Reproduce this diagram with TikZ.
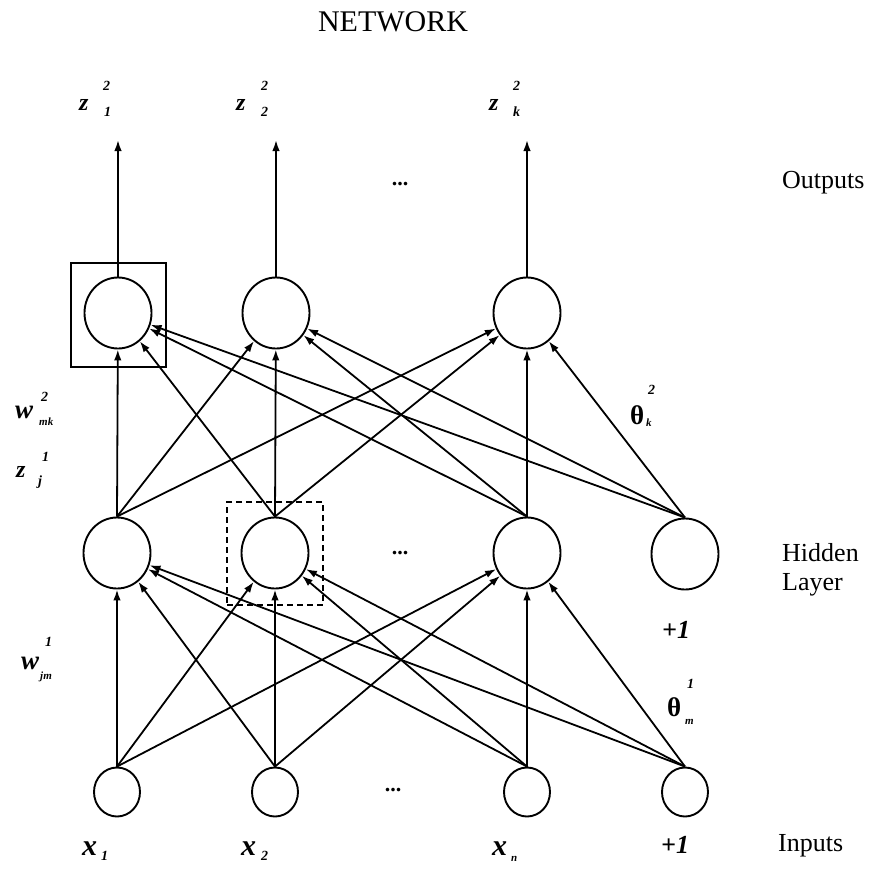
\documentclass[tikz,border=0pt]{standalone}
\usepackage{fontspec}
\setmainfont{Liberation Serif}
\usetikzlibrary{arrows.meta,shapes.geometric}
\begin{document}
\begin{tikzpicture}[x=1pt,y=-1pt,
  neuron/.style={draw, ellipse, line width=1.9pt, inner sep=0pt, minimum width=67pt, minimum height=71pt},
  innode/.style={draw, ellipse, line width=1.9pt, inner sep=0pt, minimum width=46pt, minimum height=49pt},
  conn/.style={line width=1.8pt, -{Latex[length=11pt,width=7.5pt]}},
  word/.style={font=\fontsize{26}{30}\selectfont, inner sep=0pt, anchor=base west},
  sym/.style={font=\fontsize{#1}{#1}\selectfont\bfseries\itshape, inner sep=0pt, anchor=base west},
  sym/.default=22,
  idx/.style={font=\fontsize{14}{14}\selectfont\bfseries\itshape, inner sep=0pt, anchor=base west},
  tiny/.style={font=\fontsize{11}{11}\selectfont\bfseries\itshape, inner sep=0pt, anchor=base west},
  greek/.style={font=\fontsize{27}{27}\selectfont\bfseries, inner sep=0pt, anchor=base west},
  dots/.style={font=\fontsize{22}{22}\selectfont\bfseries, inner sep=0pt}
]
\useasboundingbox (0,0) rectangle (870,879);

% title
\node[font=\fontsize{30}{34}\selectfont, inner sep=0pt, anchor=base] (title) at (393,31) {NETWORK};

% output layer
\node[neuron] (o1) at (118,313) {};
\node[neuron] (o2) at (276,313) {};
\node[neuron] (o3) at (527,313) {};
% hidden layer
\node[neuron] (h1) at (117,553) {};
\node[neuron] (h2) at (275,553) {};
\node[neuron] (h3) at (527,553) {};
\node[neuron] (h4) at (685,554) {};
% inputs
\node[innode] (i1) at (117,792) {};
\node[innode] (i2) at (275,792) {};
\node[innode] (i3) at (527,792) {};
\node[innode] (i4) at (685,792) {};

% boxes
\node[draw, line width=1.8pt, inner sep=0pt, minimum width=95pt, minimum height=104pt] (box1) at (118.5,315) {};
\node[draw, dash pattern=on 6pt off 4pt, line width=1.8pt, inner sep=0pt, minimum width=96pt, minimum height=103pt] (box2) at (275,553.5) {};

% output arrows
\coordinate (t1) at (118,140);
\coordinate (t2) at (276,140);
\coordinate (t3) at (527,140);
\draw[conn] (o1.north) -- (t1);
\draw[conn] (o2.north) -- (t2);
\draw[conn] (o3.north) -- (t3);

% hidden -> output
\foreach \s in {h1,h2,h3,h4}
  \foreach \t in {o1,o2,o3}
    \draw[conn] (\s.north) -- (\t);

% input -> hidden
\foreach \s in {i1,i2,i3,i4}
  \foreach \t in {h1,h2,h3}
    \draw[conn] (\s.north) -- (\t);

% dots
\node[dots] (d1) at (400,184) {...};
\node[dots] (d2) at (400,553) {...};
\node[dots] (d3) at (393,790) {...};

% words
\node[word] (lout) at (782,188) {Outputs};
\node[word] (lhid) at (782,561) {Hidden};
\node[word] (llay) at (782,590) {Layer};
\node[word] (linp) at (778,851) {Inputs};

% z labels
\node[sym=24] (z1) at (79,110) {z};
\node[idx] (z1s) at (103,90) {2};
\node[idx] (z1b) at (104,116) {1};
\node[sym=24] (z2) at (236,110) {z};
\node[idx] (z2s) at (261,90) {2};
\node[idx] (z2b) at (261,116) {2};
\node[sym=24] (z3) at (489,110) {z};
\node[idx] (z3s) at (513,90) {2};
\node[idx] (z3b) at (513,116) {k};

% left labels
\node[sym=27] (w2) at (15,418) {w};
\node[idx] (w2s) at (41,401) {2};
\node[tiny] (w2b) at (39,425) {mk};
\node[sym=24] (zj) at (16,477) {z};
\node[idx] (zjs) at (42,461) {1};
\node[idx] (zjb) at (38,485) {j};
\node[sym=27] (w1) at (21,669) {w};
\node[idx] (w1s) at (45,646) {1};
\node[tiny] (w1b) at (40,679) {jm};

% theta labels
\node[greek] (th2) at (630,424) {θ};
\node[idx] (th2s) at (648,394) {2};
\node[tiny] (th2b) at (646,426) {k};
\node[greek] (th1) at (667,716) {θ};
\node[idx] (th1s) at (687,688) {1};
\node[tiny] (th1b) at (685,724) {m};

% +1 labels
\node[sym=26] (p1) at (662,638) {+1};

% input labels
\node[sym=30] (x1) at (82,855) {x};
\node[idx] (x1b) at (101,860) {1};
\node[sym=30] (x2) at (241,855) {x};
\node[idx] (x2b) at (261,860) {2};
\node[sym=30] (x3) at (492,855) {x};
\node[tiny] (x3b) at (511,861) {n};
\node[sym=26] (p2) at (661,853) {+1};
\end{tikzpicture}
\end{document}
